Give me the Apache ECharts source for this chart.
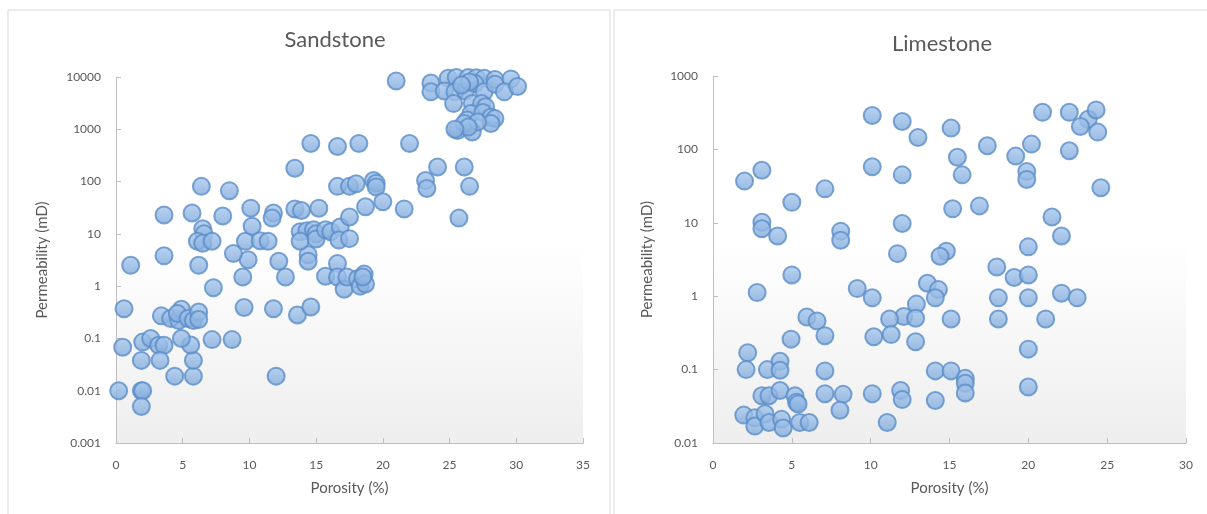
<!DOCTYPE html>
<html>
<head>
<meta charset="utf-8">
<script src="https://cdn.jsdelivr.net/npm/echarts@6/dist/echarts.min.js"></script>
<style>
  html, body { margin: 0; padding: 0; background: #fff; }
  #chart { width: 1207px; height: 514px; }
</style>
</head>
<body>
<div id="chart"></div>
<script>
// porosity (%) / permeability (mD) pairs
var sandstoneData = [
  [0.2, 0.01], [1.9, 0.01], [2.0, 0.01], [1.9, 0.005], [0.5, 0.068], [0.6, 0.37], [1.1, 2.5],
  [2.0, 0.085], [1.9, 0.038], [2.6, 0.1], [3.2, 0.074], [3.6, 0.074], [3.3, 0.038], [4.4, 0.019],
  [5.8, 0.019], [5.8, 0.038], [5.6, 0.075], [4.9, 0.1], [3.4, 0.27], [4.1, 0.24], [4.7, 0.22],
  [4.9, 0.36], [4.6, 0.3], [5.4, 0.24], [5.8, 0.22], [6.2, 0.32], [6.2, 0.23], [7.2, 0.095],
  [8.7, 0.095], [12.0, 0.019], [9.6, 0.39], [11.8, 0.37], [13.6, 0.28], [14.6, 0.4], [7.3, 0.93],
  [9.5, 1.5], [12.7, 1.5], [12.2, 3.0], [9.9, 3.2], [8.8, 4.2], [6.2, 2.5], [3.6, 3.8],
  [14.4, 4.0], [14.4, 3.0], [16.6, 2.7], [15.7, 1.55], [16.6, 1.5], [17.1, 0.87], [17.3, 1.5],
  [18.1, 1.38], [18.3, 1.0], [18.6, 1.7], [18.7, 1.1], [18.5, 1.5],
  [3.6, 23], [5.7, 25], [6.4, 81], [8.5, 67], [8.0, 22], [6.5, 12.5], [6.6, 10], [6.1, 7.2],
  [6.5, 6.6], [7.2, 7.2], [9.7, 7.2], [10.1, 31], [10.2, 14], [10.8, 7.4], [11.4, 7.2],
  [11.8, 25], [11.7, 20], [13.4, 180], [13.4, 30], [13.9, 28], [14.6, 535], [15.2, 31],
  [13.8, 11], [14.3, 11.5], [14.8, 12], [15.0, 10], [13.8, 7.2], [15.0, 8], [15.7, 12],
  [16.1, 11], [16.6, 470], [16.6, 81], [17.5, 81], [18.0, 91], [16.8, 13.5], [16.7, 7.6],
  [17.5, 8.1], [17.5, 21], [18.2, 535], [18.7, 33], [19.3, 105], [19.5, 93], [19.5, 79],
  [20.0, 41], [21.0, 8400], [22.0, 535], [21.6, 30], [23.2, 105], [23.3, 74], [24.1, 190],
  [26.1, 190], [26.5, 81], [25.7, 20],
  [23.6, 7700], [24.9, 9500], [25.5, 9800], [26.4, 9800], [27.0, 9700], [27.6, 9500],
  [28.4, 9000], [29.6, 9200], [23.6, 5200], [24.6, 5400], [25.4, 5200], [26.2, 5400],
  [26.9, 7500], [27.6, 5200], [28.4, 7300], [29.1, 5200], [30.1, 6600], [26.5, 8000],
  [25.9, 7000], [25.3, 3100], [26.7, 3100], [27.4, 3100], [27.7, 2700], [26.6, 2000],
  [27.5, 2100], [28.1, 1700], [28.4, 1600], [26.3, 1500], [25.6, 950], [26.7, 890],
  [26.1, 1290], [28.1, 1290], [27.1, 1380], [26.4, 1100], [25.4, 1000]
];

var limestoneData = [
  [2.0, 37], [3.1, 52], [3.1, 10.2], [3.1, 8.3], [4.1, 6.6], [5.0, 19], [5.0, 1.95], [2.8, 1.12],
  [7.1, 29], [8.1, 7.7], [8.1, 5.8], [10.1, 290], [10.1, 58], [12.0, 240], [12.0, 45],
  [13.0, 145], [15.1, 195], [15.5, 78], [15.8, 45], [17.4, 112], [19.2, 81], [20.2, 118],
  [19.9, 50], [19.9, 39], [20.9, 320], [22.6, 320], [23.8, 257], [23.3, 205], [24.3, 345],
  [24.4, 172], [22.6, 96], [24.6, 30], [12.0, 9.8], [15.2, 15.5], [16.9, 17], [21.5, 12],
  [22.1, 6.6], [20.0, 4.7], [11.7, 3.8], [14.8, 4.1], [14.4, 3.5], [18.0, 2.5], [19.1, 1.8],
  [20.0, 1.95], [18.1, 0.95], [18.1, 0.49], [20.0, 0.95], [22.1, 1.1], [23.1, 0.95],
  [21.1, 0.49], [20.0, 0.19], [20.0, 0.058], [9.15, 1.27], [10.1, 0.95], [13.6, 1.5],
  [14.3, 1.23], [14.1, 0.95], [12.9, 0.78], [12.1, 0.53], [12.85, 0.5], [11.2, 0.49],
  [15.1, 0.49], [5.95, 0.52], [6.6, 0.46], [7.1, 0.29], [10.2, 0.28], [11.3, 0.3],
  [12.85, 0.24], [4.95, 0.26], [2.2, 0.17], [2.1, 0.1], [3.45, 0.1], [4.25, 0.13],
  [4.25, 0.098], [7.1, 0.096], [14.1, 0.096], [15.1, 0.096], [16.0, 0.076], [16.0, 0.065],
  [16.0, 0.048], [3.1, 0.044], [3.55, 0.044], [4.25, 0.052], [5.2, 0.044], [5.3, 0.036],
  [5.4, 0.034], [7.1, 0.047], [8.25, 0.046], [8.05, 0.028], [10.1, 0.047], [11.9, 0.052],
  [12.0, 0.039], [14.1, 0.038], [11.05, 0.019], [1.95, 0.024], [2.65, 0.022], [2.65, 0.017],
  [3.3, 0.025], [3.55, 0.019], [4.35, 0.021], [4.45, 0.016], [5.5, 0.019], [6.1, 0.019]
];

var sandstoneXTicks = [0, 35, 5];          // min, max, step
var limestoneXTicks = [0, 30, 5];
var sandstoneYRange = [0.001, 10000];
var limestoneYRange = [0.01, 1000];

var FONT = 'Lato, "Open Sans", sans-serif';
var TEXT = '#595959';

var chart = echarts.init(document.getElementById('chart'), null, {renderer: 'canvas'});

function plotBg() {
    return new echarts.graphic.LinearGradient(0, 0, 0, 1, [
        {offset: 0, color: '#ffffff'},
        {offset: 0.45, color: '#ffffff'},
        {offset: 1, color: '#eeeeee'}
    ]);
}

function xAxis(idx, ticks) {
    return {
        type: 'value', gridIndex: idx,
        min: ticks[0], max: ticks[1], interval: ticks[2],
        name: 'Porosity (%)', nameLocation: 'middle', nameGap: 38,
        nameTextStyle: {color: TEXT, fontSize: 15, fontFamily: FONT},
        axisLine: {lineStyle: {color: '#bfbfbf', width: 1}},
        axisTick: {show: true, inside: true, length: 5, lineStyle: {color: '#bfbfbf'}},
        axisLabel: {color: TEXT, fontSize: 12, fontFamily: FONT, margin: 16},
        splitLine: {show: false}
    };
}

function yAxis(idx, range) {
    return {
        type: 'log', logBase: 10, gridIndex: idx,
        min: range[0], max: range[1],
        name: 'Permeability (mD)', nameLocation: 'middle', nameGap: idx === 0 ? 66 : 58,
        nameTextStyle: {color: TEXT, fontSize: 15, fontFamily: FONT},
        axisLine: {show: true, lineStyle: {color: '#bfbfbf', width: 1}},
        axisTick: {show: true, inside: true, length: 5, lineStyle: {color: '#bfbfbf'}},
        axisLabel: {
            color: TEXT, fontSize: 12, fontFamily: FONT, margin: 15,
            formatter: function (v) { return String(Number(v.toPrecision(6))); }
        },
        splitLine: {show: false}
    };
}

var markerStyle = {
    color: new echarts.graphic.LinearGradient(0, 0, 0, 1, [
        {offset: 0, color: '#a9c9ee'},
        {offset: 1, color: '#7ea8da'}
    ]),
    borderColor: '#5b8dc8',
    borderWidth: 2
};

chart.setOption({
    animation: false,
    graphic: [
        {type: 'rect', shape: {x: 8, y: 10, width: 602, height: 520}, style: {fill: 'none', stroke: '#d9d9d9', lineWidth: 1}, z: -10},
        {type: 'rect', shape: {x: 614, y: 10, width: 600, height: 520}, style: {fill: 'none', stroke: '#d9d9d9', lineWidth: 1}, z: -10},
        {type: 'text', x: 335, y: 40, style: {text: 'Sandstone', fontSize: 22, fontFamily: FONT, fill: TEXT,
            align: 'center', verticalAlign: 'middle'}},
        {type: 'text', x: 942, y: 44, style: {text: 'Limestone', fontSize: 22, fontFamily: FONT, fill: TEXT,
            align: 'center', verticalAlign: 'middle'}}
    ],
    grid: [
        {left: 116, top: 77, width: 467, height: 366, show: true, borderWidth: 0, backgroundColor: plotBg()},
        {left: 713, top: 76, width: 473, height: 367, show: true, borderWidth: 0, backgroundColor: plotBg()}
    ],
    xAxis: [xAxis(0, sandstoneXTicks), xAxis(1, limestoneXTicks)],
    yAxis: [yAxis(0, sandstoneYRange), yAxis(1, limestoneYRange)],
    series: [
        {name: 'Sandstone', type: 'scatter', xAxisIndex: 0, yAxisIndex: 0, symbolSize: 17,
            itemStyle: markerStyle, data: sandstoneData},
        {name: 'Limestone', type: 'scatter', xAxisIndex: 1, yAxisIndex: 1, symbolSize: 17,
            itemStyle: markerStyle, data: limestoneData}
    ]
});
</script>
</body>
</html>
